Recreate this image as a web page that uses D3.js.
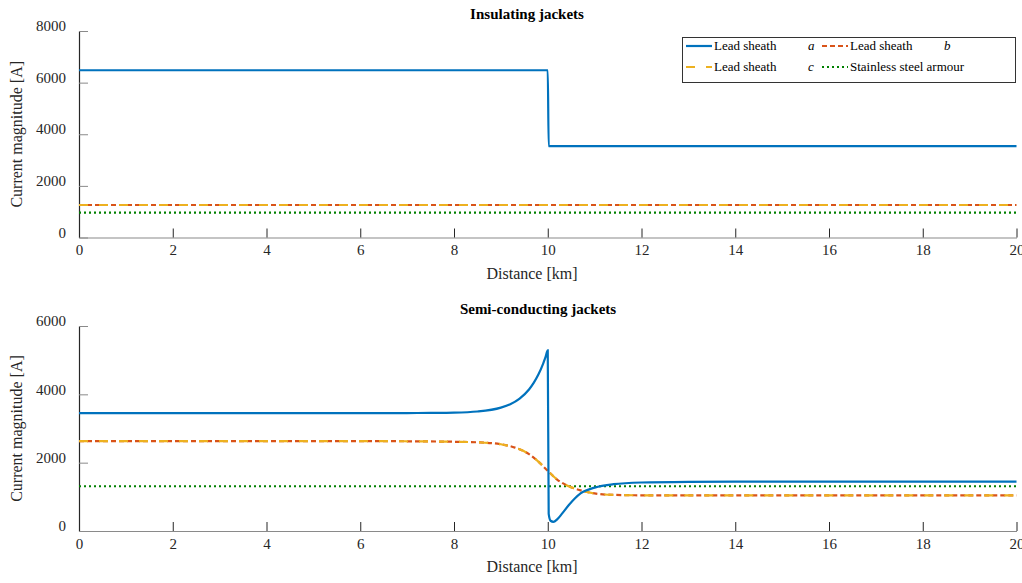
<!DOCTYPE html>
<html>
<head>
<meta charset="utf-8">
<script src="https://cdn.jsdelivr.net/npm/d3@7"></script>
<style>
  body { margin: 0; background: #fff; }
  svg { display: block; font-family: "Liberation Serif", "DejaVu Serif", serif; }
  svg text { font-family: "Liberation Serif", "DejaVu Serif", serif !important; }
</style>
</head>
<body>
<svg id="chart" width="1022" height="583"></svg>
<script>
// insulating jackets (top)
const topX = [0, 10, 10.02, 20];
const topSheathA = [6480, 6480, 3540, 3540];
const topSheathB = [1260, 1260, 1260, 1260];
const topSheathC = [1260, 1260, 1260, 1260];
const topArmour = [960, 960, 960, 960];

// semi-conducting jackets (bottom)
const botXA = [0, 6, 7, 7.5, 8, 8.5, 9.0, 9.2, 9.4, 9.6, 9.7, 9.8, 9.9, 9.95, 10.0, 10.02, 10.06, 10.12, 10.2, 10.3, 10.45, 10.7, 11.0, 11.4, 12, 13, 14, 20];
const botSheathA = [3450, 3450, 3452, 3456, 3464, 3497, 3610, 3712, 3877, 4143, 4336, 4578, 4892, 5079, 5290, 500, 300, 270, 340, 500, 760, 1100, 1270, 1370, 1420, 1440, 1445, 1445];
const botXB = [0, 6, 7, 7.5, 8, 8.5, 9.0, 9.3, 9.6, 9.8, 10.0, 10.2, 10.4, 10.7, 11.0, 11.4, 12, 13, 20];
const botSheathB = [2630, 2630, 2626, 2621, 2612, 2595, 2540, 2440, 2250, 2030, 1760, 1505, 1340, 1190, 1100, 1057, 1045, 1045, 1045];
const botSheathC = [2630, 2630, 2626, 2621, 2612, 2595, 2540, 2440, 2250, 2030, 1760, 1505, 1340, 1190, 1100, 1057, 1045, 1045, 1045];
const botArmourX = [0, 20];
const botArmour = [1310, 1310];

const xTicks = [0, 2, 4, 6, 8, 10, 12, 14, 16, 18, 20];
const topYTicks = [0, 2000, 4000, 6000, 8000];
const botYTicks = [0, 2000, 4000, 6000];

const COLORS = { a: "#0072BD", b: "#D95319", c: "#EDB120", armour: "#008000" };

const svg = d3.select("#chart");

function zip(xs, ys) { return xs.map((x, i) => [x, ys[i]]); }

function panel(cfg) {
    const x = d3.scaleLinear().domain([0, 20]).range([79, 1016.5]);
    const y = d3.scaleLinear().domain([0, cfg.yMax]).range([cfg.bottom, cfg.top]);
    const g = svg.append("g");

    const xAxis = g.append("g")
        .attr("transform", `translate(0,${cfg.bottom})`)
        .call(d3.axisBottom(x).tickValues(xTicks).tickFormat(d3.format("d"))
            .tickSizeInner(-9).tickSizeOuter(0).tickPadding(7));
    xAxis.attr("font-size", 15);
    xAxis.select(".domain").attr("stroke", "#8a8a8a").attr("stroke-width", 1.2);
    xAxis.selectAll(".tick line").attr("stroke", "#262626");
    xAxis.selectAll(".tick text").attr("fill", "#262626");

    const yAxis = g.append("g")
        .attr("transform", "translate(79,0)")
        .call(d3.axisLeft(y).tickValues(cfg.yTicks).tickFormat(d3.format("d"))
            .tickSizeInner(-9).tickSizeOuter(0).tickPadding(13));
    yAxis.attr("font-size", 15);
    yAxis.select(".domain").attr("stroke", "#262626").attr("stroke-width", 1.2);
    yAxis.selectAll(".tick line").attr("stroke", "#8a8a8a");
    yAxis.selectAll(".tick text").attr("fill", "#262626").attr("dy", "-0.02em");

    const line = d3.line().x(d => x(d[0])).y(d => y(d[1])).curve(d3.curveMonotoneX);

    cfg.series.forEach(s => {
        g.append("path")
            .datum(zip(s.x, s.y))
            .attr("fill", "none")
            .attr("stroke", s.color)
            .attr("stroke-width", 2.2)
            .attr("stroke-dasharray", s.dash || null)
            .attr("d", line);
    });

    g.append("text")
        .attr("x", cfg.titleX).attr("y", cfg.top - 12)
        .attr("text-anchor", "middle")
        .attr("font-weight", "bold").attr("font-size", 15)
        .attr("fill", "#000")
        .text(cfg.title);

    g.append("text")
        .attr("x", 532).attr("y", cfg.bottom + 41)
        .attr("text-anchor", "middle")
        .attr("font-size", 16).attr("fill", "#262626")
        .text("Distance [km]");

    g.append("text")
        .attr("transform", `translate(22,${(cfg.top + cfg.bottom) / 2}) rotate(-90)`)
        .attr("text-anchor", "middle")
        .attr("font-size", 16).attr("fill", "#262626")
        .text("Current magnitude [A]");
}

panel({
    title: "Insulating jackets", titleX: 527, top: 31, bottom: 237.5, yMax: 8000, yTicks: topYTicks,
    series: [
        { x: topX, y: topArmour, color: COLORS.armour, dash: "2,3" },
        { x: topX, y: topSheathB, color: COLORS.b, dash: "5,3" },
        { x: topX, y: topSheathC, color: COLORS.c, dash: "9,11" },
        { x: topX, y: topSheathA, color: COLORS.a }
    ]
});

panel({
    title: "Semi-conducting jackets", titleX: 538, top: 326, bottom: 531, yMax: 6000, yTicks: botYTicks,
    series: [
        { x: botArmourX, y: botArmour, color: COLORS.armour, dash: "2,3" },
        { x: botXB, y: botSheathB, color: COLORS.b, dash: "5,3" },
        { x: botXB, y: botSheathC, color: COLORS.c, dash: "9,11" },
        { x: botXA, y: botSheathA, color: COLORS.a }
    ]
});

// legend
const legend = svg.append("g");
legend.append("rect")
    .attr("x", 682.5).attr("y", 37.5).attr("width", 333).attr("height", 45)
    .attr("fill", "#fff").attr("stroke", "#333").attr("stroke-width", 1);

const legendItems = [
    { label: "Lead sheath", tag: "a", color: COLORS.a, dash: null, col: 0, row: 0 },
    { label: "Lead sheath", tag: "b", color: COLORS.b, dash: "5,3", col: 1, row: 0 },
    { label: "Lead sheath", tag: "c", color: COLORS.c, dash: "9,11", col: 0, row: 1 },
    { label: "Stainless steel armour", tag: "", color: COLORS.armour, dash: "2,3", col: 1, row: 1 }
];
const colX = [686, 822];
const rowY = [46, 67];
legendItems.forEach(it => {
    const lx = colX[it.col], ly = rowY[it.row];
    legend.append("line")
        .attr("x1", lx).attr("x2", lx + 26).attr("y1", ly).attr("y2", ly)
        .attr("stroke", it.color).attr("stroke-width", 2.2)
        .attr("stroke-dasharray", it.dash);
    legend.append("text")
        .attr("x", lx + 28).attr("y", ly + 4)
        .attr("font-size", 13).attr("fill", "#000")
        .text(it.label);
    if (it.tag) {
        legend.append("text")
            .attr("x", lx + 122).attr("y", ly + 4)
            .attr("font-size", 13).attr("font-style", "italic").attr("fill", "#000")
            .text(it.tag);
    }
});
</script>
</body>
</html>
